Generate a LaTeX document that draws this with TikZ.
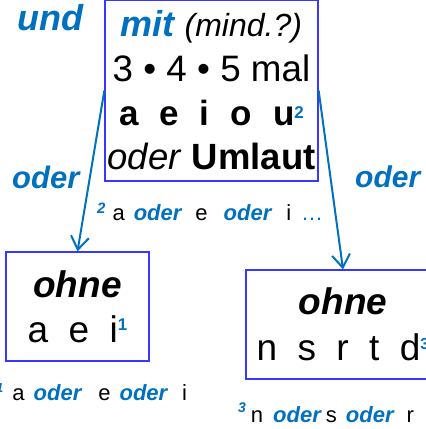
\documentclass[tikz,border=0pt]{standalone}
\usepackage{fontspec}
\setmainfont{Liberation Sans}
\usetikzlibrary{positioning}
\usetikzlibrary{arrows.meta}
\definecolor{darkblue}{RGB}{0,112,192}
\definecolor{boxblue}{RGB}{55,55,255}
% blue connective in the hints
\newcommand{\oder}{{\color{darkblue}\bfseries\itshape oder}}
% raised blue marks: raise, size, text
\newcommand{\boxsup}[3]{\raisebox{#1pt}{\fontsize{#2}{#2}\selectfont\color{darkblue}\bfseries #3}}
\newcommand{\notesup}[3]{\raisebox{#1pt}{\fontsize{#2}{#2}\selectfont\color{darkblue}\bfseries\itshape #3}}
\tikzset {
  % framed word boxes
  box/.style = {draw=boxblue, line width=1.3pt, align=center, inner sep=0pt},
  % blue arrows between boxes
  link/.style = {darkblue, line width=2pt, -{Straight Barb[length=13pt,width=18pt]}},
  % und / oder labels
  conj/.style = {text=darkblue, font=\fontsize{31}{31}\selectfont\bfseries\itshape, anchor=base west, inner sep=0pt},
  % small hints under the boxes
  note/.style = {font=\fontsize{22}{22}\selectfont, anchor=base west, inner sep=0pt},
}
\begin{document}
\begin{tikzpicture}[x=1pt,y=-1pt]
      \useasboundingbox (0,0) rectangle (426,429);

      \node[box, minimum width=213pt, minimum height=181pt, font=\fontsize{35}{44.3}\selectfont] (mit) at (211.5,90.5)
        {{\fontsize{36}{36}\selectfont\color{darkblue}\bfseries\itshape mit} {\fontsize{32}{32}\selectfont\itshape (mind.?)}\\
         {\fontsize{36.8}{36.8}\selectfont 3 • 4 • 5 mal}\\
         \textbf{a\hspace{.6em}e\hspace{.6em}i\hspace{.6em}o\hspace{.6em}u}\boxsup{7}{17}{2}\\
         {\fontsize{36.5}{36.5}\selectfont{\itshape oder} \textbf{Umlaut}}};

      \node[box, minimum width=143pt, minimum height=109pt, font=\fontsize{37}{45}\selectfont] (ohneL) at (77.5,306.5)
        {{\bfseries\itshape ohne}\\ a\hspace{.55em}e\hspace{.55em}i\boxsup{12}{17}{1}};

      \node[box, minimum width=194pt, minimum height=109pt, font=\fontsize{37}{46}\selectfont] (ohneR) at (343,324.5)
        {{\bfseries\itshape ohne}\\ n\hspace{.55em}s\hspace{.55em}r\hspace{.55em}t\hspace{.55em}d\boxsup{11}{16}{3}};

      \node[conj, font=\fontsize{36}{36}\selectfont\bfseries\itshape] (und) at (17,30) {und};
      \node[conj] (oderL) at (12,188) {oder};
      \node[conj, font=\fontsize{30}{30}\selectfont\bfseries\itshape] (oderR) at (355,187) {oder};

      \draw [link] (mit.west) -- (ohneL.north);
      \draw [link] (mit.east) -- (ohneR.north);

      \node[note] (hint2) at (97,220)
        {\notesup{7}{15}{2}\hspace{7pt}a\hspace{9pt}\oder\hspace{14pt}e\hspace{16pt}\oder\hspace{15pt}i\hspace{10pt}{\color{darkblue}…}};
      \node[note] (hint1) at (-4,400)
        {\notesup{8}{13}{1}\hspace{9pt}a\hspace{9pt}\oder\hspace{17pt}e\hspace{9pt}\oder\hspace{15pt}i};
      \node[note] (hint3) at (238,422)
        {\notesup{10}{14}{3}\hspace{5pt}n\hspace{10pt}\oder\hspace{5pt}s\hspace{9pt}\oder\hspace{13pt}r};
\end{tikzpicture}
\end{document}
